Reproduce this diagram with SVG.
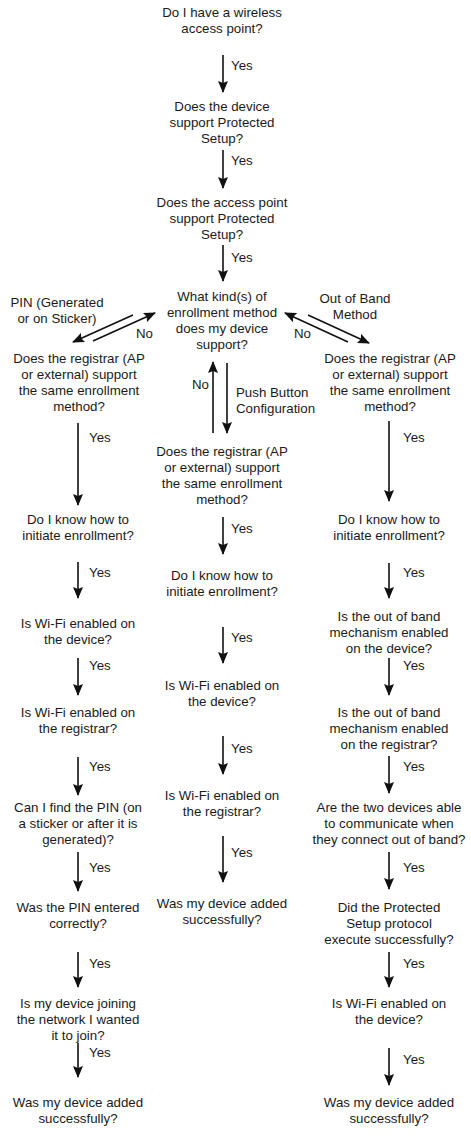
<svg xmlns="http://www.w3.org/2000/svg" width="471" height="1136" viewBox="0 0 471 1136">
<style>
text{font-family:"Liberation Sans",Arial,sans-serif;font-size:13.3px;fill:#1a1a1a}
.c{text-anchor:middle}
.e line{stroke:#111;stroke-width:1.6;marker-end:url(#ah)}
</style>
<defs>
<marker id="ah" viewBox="0 0 12 10" refX="11" refY="5" markerWidth="12" markerHeight="10" markerUnits="userSpaceOnUse" orient="auto">
<path d="M0,0 L12,5 L0,10 L2,5 z" fill="#111"/>
</marker>
</defs>
<rect width="471" height="1136" fill="#fff"/>

<g id="n-ap" class="c"><text x="222" y="17">Do I have a wireless</text><text x="222" y="33">access point?</text></g>
<g id="n-dev" class="c"><text x="222" y="111">Does the device</text><text x="222" y="127">support Protected</text><text x="222" y="143">Setup?</text></g>
<g id="n-apws" class="c"><text x="222" y="207">Does the access point</text><text x="222" y="223">support Protected</text><text x="222" y="239">Setup?</text></g>
<g id="n-kind" class="c"><text x="222" y="301">What kind(s) of</text><text x="222" y="317">enrollment method</text><text x="222" y="333">does my device</text><text x="222" y="349">support?</text></g>

<g id="lbl-pin" class="c"><text x="57" y="307">PIN (Generated</text><text x="57" y="323">or on Sticker)</text></g>
<g id="lbl-oob" class="c"><text x="355" y="303">Out of Band</text><text x="355" y="319">Method</text></g>
<g id="lbl-pbc"><text x="236" y="397">Push Button</text><text x="236" y="413">Configuration</text></g>

<g id="L1" class="c"><text x="79" y="363">Does the registrar (AP</text><text x="79" y="379">or external) support</text><text x="79" y="395">the same enrollment</text><text x="79" y="411">method?</text></g>
<g id="L2" class="c"><text x="78" y="524">Do I know how to</text><text x="78" y="540">initiate enrollment?</text></g>
<g id="L3" class="c"><text x="78" y="628">Is Wi-Fi enabled on</text><text x="78" y="644">the device?</text></g>
<g id="L4" class="c"><text x="78" y="717">Is Wi-Fi enabled on</text><text x="78" y="733">the registrar?</text></g>
<g id="L5" class="c"><text x="78" y="812">Can I find the PIN (on</text><text x="78" y="828">a sticker or after it is</text><text x="78" y="844">generated)?</text></g>
<g id="L6" class="c"><text x="78" y="912">Was the PIN entered</text><text x="78" y="928">correctly?</text></g>
<g id="L7" class="c"><text x="78" y="1008">Is my device joining</text><text x="78" y="1024">the network I wanted</text><text x="78" y="1040">it to join?</text></g>
<g id="L8" class="c"><text x="78" y="1107">Was my device added</text><text x="78" y="1123">successfully?</text></g>

<g id="C1" class="c"><text x="222" y="456">Does the registrar (AP</text><text x="222" y="472">or external) support</text><text x="222" y="488">the same enrollment</text><text x="222" y="504">method?</text></g>
<g id="C2" class="c"><text x="222" y="580">Do I know how to</text><text x="222" y="596">initiate enrollment?</text></g>
<g id="C3" class="c"><text x="222" y="690">Is Wi-Fi enabled on</text><text x="222" y="706">the device?</text></g>
<g id="C4" class="c"><text x="222" y="800">Is Wi-Fi enabled on</text><text x="222" y="816">the registrar?</text></g>
<g id="C5" class="c"><text x="222" y="908">Was my device added</text><text x="222" y="924">successfully?</text></g>

<g id="R1" class="c"><text x="390" y="363">Does the registrar (AP</text><text x="390" y="379">or external) support</text><text x="390" y="395">the same enrollment</text><text x="390" y="411">method?</text></g>
<g id="R2" class="c"><text x="389" y="524">Do I know how to</text><text x="389" y="540">initiate enrollment?</text></g>
<g id="R3" class="c"><text x="389" y="621">Is the out of band</text><text x="389" y="637">mechanism enabled</text><text x="389" y="653">on the device?</text></g>
<g id="R4" class="c"><text x="389" y="717">Is the out of band</text><text x="389" y="733">mechanism enabled</text><text x="389" y="749">on the registrar?</text></g>
<g id="R5" class="c"><text x="389" y="812">Are the two devices able</text><text x="389" y="828">to communicate when</text><text x="389" y="844">they connect out of band?</text></g>
<g id="R6" class="c"><text x="389" y="912">Did the Protected</text><text x="389" y="928">Setup protocol</text><text x="389" y="944">execute successfully?</text></g>
<g id="R7" class="c"><text x="389" y="1008">Is Wi-Fi enabled on</text><text x="389" y="1024">the device?</text></g>
<g id="R8" class="c"><text x="389" y="1107">Was my device added</text><text x="389" y="1123">successfully?</text></g>

<g id="connectors" class="e">
<line x1="223" y1="55" x2="223" y2="92"/><text x="231" y="70">Yes</text>
<line x1="223" y1="150" x2="223" y2="188"/><text x="231" y="165">Yes</text>
<line x1="223" y1="245" x2="223" y2="281"/><text x="231" y="262">Yes</text>

<line x1="93" y1="341" x2="155" y2="313"/>
<line x1="133" y1="315" x2="73" y2="342"/>
<text x="136" y="338">No</text>
<line x1="348" y1="342" x2="285" y2="313"/>
<line x1="308" y1="315" x2="369" y2="343"/>
<text x="294" y="338">No</text>
<line x1="213" y1="433" x2="213" y2="362"/>
<line x1="227" y1="363" x2="227" y2="433"/>
<text x="192" y="389">No</text>

<line x1="78" y1="423" x2="78" y2="505"/><text x="89" y="442">Yes</text>
<line x1="78" y1="562" x2="78" y2="598"/><text x="89" y="577">Yes</text>
<line x1="78" y1="658" x2="78" y2="695"/><text x="89" y="670">Yes</text>
<line x1="78" y1="757" x2="78" y2="795"/><text x="89" y="771">Yes</text>
<line x1="78" y1="852" x2="78" y2="891"/><text x="89" y="872">Yes</text>
<line x1="78" y1="952" x2="78" y2="987"/><text x="89" y="968">Yes</text>
<line x1="78" y1="1043" x2="78" y2="1077"/><text x="89" y="1057">Yes</text>

<line x1="223" y1="517" x2="223" y2="554"/><text x="231" y="533">Yes</text>
<line x1="223" y1="627" x2="223" y2="663"/><text x="231" y="642">Yes</text>
<line x1="223" y1="736" x2="223" y2="774"/><text x="231" y="753">Yes</text>
<line x1="223" y1="836" x2="223" y2="882"/><text x="231" y="857">Yes</text>

<line x1="389" y1="421" x2="389" y2="501"/><text x="403" y="442">Yes</text>
<line x1="389" y1="563" x2="389" y2="598"/><text x="403" y="577">Yes</text>
<line x1="389" y1="658" x2="389" y2="695"/><text x="403" y="670">Yes</text>
<line x1="389" y1="756" x2="389" y2="793"/><text x="403" y="771">Yes</text>
<line x1="389" y1="852" x2="389" y2="889"/><text x="403" y="872">Yes</text>
<line x1="389" y1="952" x2="389" y2="987"/><text x="403" y="968">Yes</text>
<line x1="389" y1="1048" x2="389" y2="1085"/><text x="403" y="1064">Yes</text>
</g>
</svg>
